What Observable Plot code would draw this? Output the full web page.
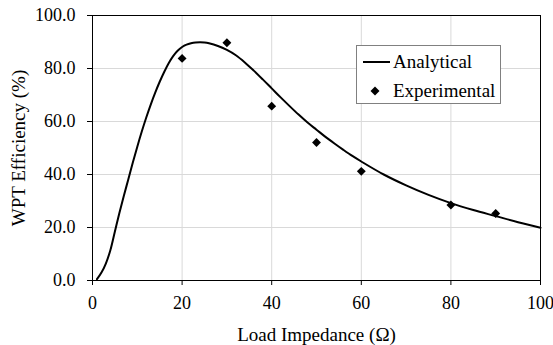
<!DOCTYPE html>
<html>
<head>
<meta charset="utf-8">
<script src="https://cdn.jsdelivr.net/npm/d3@7"></script>
<script src="https://cdn.jsdelivr.net/npm/@observablehq/plot@0.6"></script>
<style>
  body { margin: 0; background: #fff; }
  #wrap { position: relative; width: 553px; height: 345px; font-family: "Liberation Serif", Tinos, "Times New Roman", Times, serif; }
  #legend { position: absolute; left: 356px; top: 45px; width: 143px; height: 57px; border: 1px solid #808080; background: #fff; font-size: 19px; color: #000; }
  #legend .row { position: absolute; left: 0; height: 20px; display: flex; align-items: center; white-space: nowrap; }
</style>
</head>
<body>
<div id="wrap"></div>
<script>
const FONT = '"Liberation Serif", Tinos, "Times New Roman", Times, serif';
// Analytical curve
const curveX = [1, 2, 3, 4, 5, 6, 7, 8, 9, 10, 11, 12, 13, 14, 15, 16, 17, 18, 19, 20, 21, 22, 23, 24, 25, 26, 28, 30, 32, 34, 36, 38, 40, 42, 44, 46, 48, 50, 52, 54, 56, 58, 60, 65, 70, 75, 80, 85, 90, 95, 100];
const curveY = [0.5, 3.0, 6.5, 11.5, 18.5, 25.5, 32.0, 38.2, 44.5, 50.5, 56.2, 61.5, 66.4, 70.9, 75.0, 78.7, 82.0, 84.7, 86.7, 88.1, 89.0, 89.5, 89.8, 89.9, 89.8, 89.5, 88.5, 87.0, 85.0, 82.3, 79.2, 75.9, 72.5, 69.1, 65.8, 62.6, 59.6, 56.9, 54.2, 51.7, 49.3, 47.0, 44.9, 40.0, 35.9, 32.3, 29.2, 26.6, 24.3, 22.0, 19.9];
// Experimental points
const expX = [20, 30, 40, 50, 60, 80, 90];
const expY = [83.8, 89.7, 65.8, 52.1, 41.2, 28.5, 25.3];
// Ticks
const xTicks = [0, 20, 40, 60, 80, 100];
const yTicks = [0, 20, 40, 60, 80, 100];
const xLabel = "Load Impedance (Ω)";
const yLabel = "WPT Efficiency (%)";
const legendLabels = ["Analytical", "Experimental"];

const curve = curveX.map((x, i) => ({x, y: curveY[i]}));
const pts = expX.map((x, i) => ({x, y: expY[i]}));

const chart = Plot.plot({
  width: 553,
  height: 345,
  marginLeft: 92,
  marginRight: 13,
  marginTop: 15,
  marginBottom: 65,
  style: {fontFamily: FONT, fontSize: "18px", color: "#000", background: "#fff"},
  x: {domain: [0, 100]},
  y: {domain: [0, 100]},
  marks: [
    Plot.gridX(xTicks, {stroke: "#d9d9d9", strokeOpacity: 1}),
    Plot.gridY(yTicks, {stroke: "#d9d9d9", strokeOpacity: 1}),
    Plot.frame({stroke: "#000"}),
    Plot.axisX({ticks: xTicks, tickFormat: d => d.toFixed(0), tickSize: 5, tickPadding: 11, label: null, fontSize: 18, fontFamily: FONT}),
    Plot.axisY({ticks: yTicks, tickFormat: d => d.toFixed(1), tickSize: 5, tickPadding: 12, label: null, fontSize: 18, fontFamily: FONT}),
    Plot.line(curve, {x: "x", y: "y", stroke: "#000", strokeWidth: 2, curve: "catmull-rom"}),
    Plot.dot(pts, {x: "x", y: "y", symbol: "diamond2", r: 4, fill: "#000", stroke: "none"}),
    Plot.text([xLabel], {frameAnchor: "bottom", textAnchor: "middle", lineAnchor: "middle", dy: 54, fontSize: 19, fill: "#000", fontFamily: FONT}),
    Plot.text([yLabel], {frameAnchor: "left", textAnchor: "middle", lineAnchor: "middle", dx: -74, rotate: -90, fontSize: 19, fill: "#000", fontFamily: FONT})
  ]
});
const wrap = document.getElementById("wrap");
wrap.appendChild(chart);

const legend = document.createElement("div");
legend.id = "legend";
legend.innerHTML = `
  <div class="row" style="top:6px;"><svg width="36" height="20"><line x1="6" y1="10" x2="33" y2="10" stroke="#000" stroke-width="2"/></svg><span>${legendLabels[0]}</span></div>
  <div class="row" style="top:35px;"><svg width="36" height="20"><path d="M18,5.5L22.5,10L18,14.5L13.5,10Z" fill="#000"/></svg><span>${legendLabels[1]}</span></div>`;
wrap.appendChild(legend);
</script>
</body>
</html>
